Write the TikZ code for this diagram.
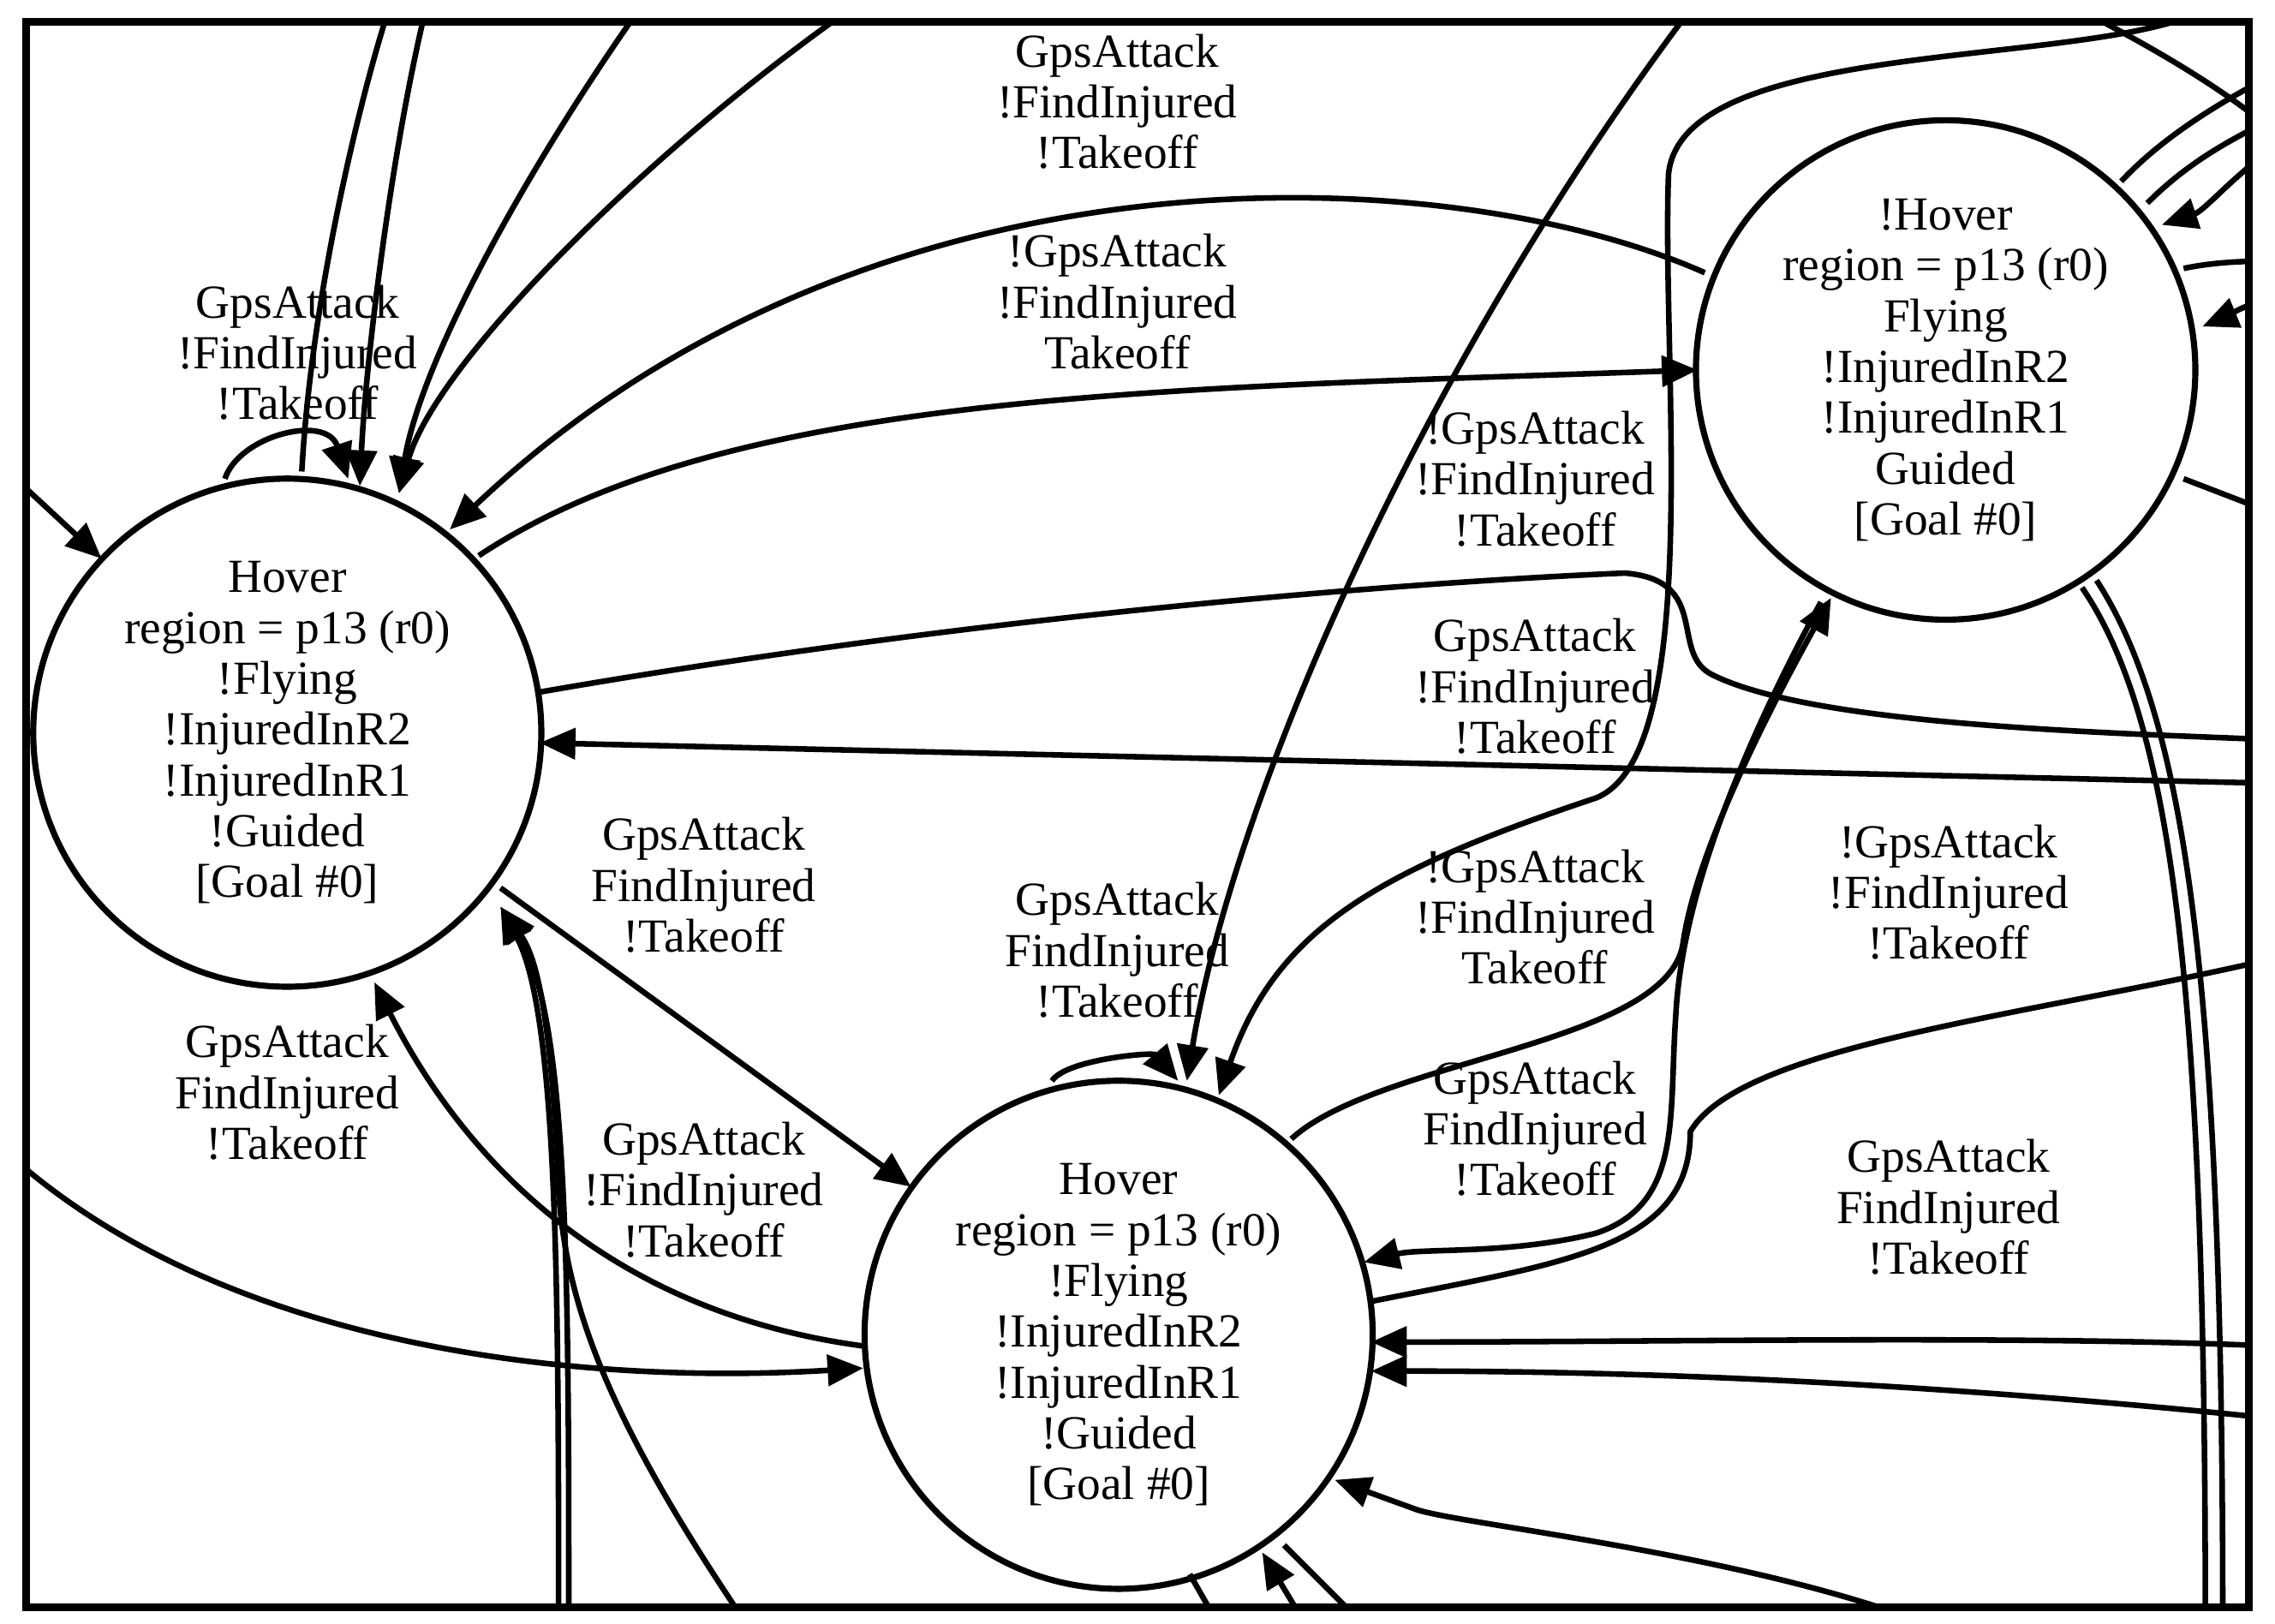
\documentclass[tikz,border=0pt]{standalone}
\usepackage{fontspec}
\setmainfont{Liberation Serif}
\usetikzlibrary{arrows.meta}
\begin{document}
\begin{tikzpicture}[x=0.01cm,y=-0.01cm,
  st/.style={draw,circle,line width=1.2pt,minimum size=3.5cm,inner sep=0pt,align=center,font=\fontsize{9.3}{9.96}\selectfont},
  lb/.style={align=center,font=\fontsize{9.3}{9.96}\selectfont},
  e/.style={line width=1.1pt,-{Triangle[length=7pt,width=6pt]}},
  l/.style={line width=1.1pt}]
\useasboundingbox (0,0) rectangle (1568,1119);
\draw[line width=1.5pt] (18,15) rectangle (1550,1108);
\node[st] (A) at (198,505) {Hover\\region = p13 (r0)\\!Flying\\!InjuredInR2\\!InjuredInR1\\!Guided\\[0pt][Goal \#0]};
\node[st] (B) at (771,920) {Hover\\region = p13 (r0)\\!Flying\\!InjuredInR2\\!InjuredInR1\\!Guided\\[0pt][Goal \#0]};
\node[st,minimum size=3.44cm] (C) at (1341,255) {!Hover\\region = p13 (r0)\\Flying\\!InjuredInR2\\!InjuredInR1\\Guided\\[0pt][Goal \#0]};
\begin{scope}
\clip (18,15) rectangle (1550,1108);
\coordinate (t1) at (295,0); \coordinate (t2) at (445,0); \coordinate (t3) at (595,0);
\coordinate (t4) at (1170,0); \coordinate (t5) at (1530,0); \coordinate (t6) at (1420,0);
\coordinate (l1) at (0,320); \coordinate (l2) at (0,790);
\coordinate (r1) at (1570,510); \coordinate (r2) at (1570,540); \coordinate (r3) at (1570,660);
\coordinate (r4) at (1570,928); \coordinate (r5) at (1570,978); \coordinate (r6) at (1570,100);
\coordinate (r7) at (1570,205); \coordinate (r8) at (1570,50); \coordinate (r9) at (1570,355);
\coordinate (r10) at (1570,80); \coordinate (r11) at (1570,180);
\coordinate (b1) at (385,1120); \coordinate (b2) at (392,1120); \coordinate (b3) at (515,1120);
\coordinate (b4) at (1330,1120); \coordinate (b5) at (900,1120); \coordinate (b6) at (840,1120);
\coordinate (b7) at (940,1120); \coordinate (b8) at (1520,1120); \coordinate (b9) at (1532,1120);
\coordinate (c1) at (1175,188);
% A self loop
\draw[e] (155,330) .. controls (165,300) and (225,285) .. (240,330);
\draw[l] (208,325) .. controls (215,200) and (250,60) .. (270,0);
\draw[e] (t1) .. controls (270,100) and (252,250) .. (248,335);
\draw[e] (t2) .. controls (360,120) and (290,250) .. (275,340);
\draw[e] (t3) .. controls (450,100) and (300,250) .. (275,340);
\draw[e] (l1) -- (70,385);
\draw[e] (c1) .. controls (1000,110) and (600,90) .. (310,365);
\draw[e] (330,383) .. controls (500,270) and (800,268) .. (1170,255);
\draw[l] (372,477) .. controls (700,420) and (1000,400) .. (1120,395) .. controls (1180,400) and (1150,450) .. (1180,465) .. controls (1250,500) and (1450,505) .. (r1);
\draw[e] (r2) -- (372,512);
\draw[e] (345,612) -- (628,818);
\draw[e] (597,928) .. controls (420,905) and (320,800) .. (258,677);
\draw[e] (l2) .. controls (150,930) and (400,955) .. (595,943);
\draw[e] (b1) .. controls (385,900) and (385,700) .. (345,625);
\draw[e] (b2) .. controls (392,880) and (392,700) .. (345,625);
\draw[e] (b3) .. controls (420,980) and (390,900) .. (385,820) .. controls (380,700) and (370,660) .. (345,625);
% B
\draw[e] (725,745) .. controls (735,730) and (795,725) .. (812,745);
\draw[e] (t4) .. controls (980,250) and (850,550) .. (818,745);
\draw[e] (t5) .. controls (1470,50) and (1160,20) .. (1150,120) .. controls (1145,250) and (1175,520) .. (1100,550) .. controls (950,600) and (880,640) .. (840,755);
\draw[e] (890,785) .. controls (950,730) and (1150,720) .. (1160,650) .. controls (1170,580) and (1230,470) .. (1262,412);
\draw[e] (1255,415) .. controls (1220,480) and (1160,600) .. (1155,700) .. controls (1150,770) and (1160,830) .. (1100,850) .. controls (1040,865) and (980,860) .. (940,870);
\draw[l] (945,897) .. controls (1080,870) and (1165,860) .. (1165,780) .. controls (1200,720) and (1400,700) .. (r3);
\draw[e] (r4) .. controls (1400,920) and (1150,925) .. (945,925);
\draw[e] (r5) .. controls (1300,950) and (1100,945) .. (945,945);
\draw[e] (b4) .. controls (1200,1070) and (1000,1050) .. (975,1040) -- (920,1020);
\draw[e] (b5) -- (870,1070);
\draw[l] (b6) -- (820,1085);
\draw[l] (b7) -- (885,1065);
% C
\draw[e] (r6) .. controls (1540,120) and (1520,145) .. (1490,155);
\draw[e] (r7) .. controls (1545,210) and (1535,218) .. (1518,225);
\draw[l] (1462,125) .. controls (1490,95) and (1530,70) .. (r8);
\draw[l] (1480,140) .. controls (1510,110) and (1540,95) .. (r10);
\draw[l] (1505,185) .. controls (1530,180) and (1550,180) .. (r11);
\draw[l] (1505,330) -- (r9);
\draw[l] (1435,405) .. controls (1500,500) and (1520,700) .. (b8);
\draw[l] (1445,400) .. controls (1510,500) and (1532,700) .. (b9);
\draw[l] (t6) .. controls (1480,30) and (1530,60) .. (1560,85);
\end{scope}
\node[lb] at (205,243) {GpsAttack\\!FindInjured\\!Takeoff};
\node[lb] at (770,70) {GpsAttack\\!FindInjured\\!Takeoff};
\node[lb] at (770,208) {!GpsAttack\\!FindInjured\\Takeoff};
\node[lb] at (1058,330) {!GpsAttack\\!FindInjured\\!Takeoff};
\node[lb] at (1058,473) {GpsAttack\\!FindInjured\\!Takeoff};
\node[lb] at (485,610) {GpsAttack\\FindInjured\\!Takeoff};
\node[lb] at (198,753) {GpsAttack\\FindInjured\\!Takeoff};
\node[lb] at (485,820) {GpsAttack\\!FindInjured\\!Takeoff};
\node[lb] at (770,655) {GpsAttack\\FindInjured\\!Takeoff};
\node[lb] at (1058,632) {!GpsAttack\\!FindInjured\\Takeoff};
\node[lb] at (1058,778) {GpsAttack\\FindInjured\\!Takeoff};
\node[lb] at (1343,615) {!GpsAttack\\!FindInjured\\!Takeoff};
\node[lb] at (1343,832) {GpsAttack\\FindInjured\\!Takeoff};
\end{tikzpicture}
\end{document}
